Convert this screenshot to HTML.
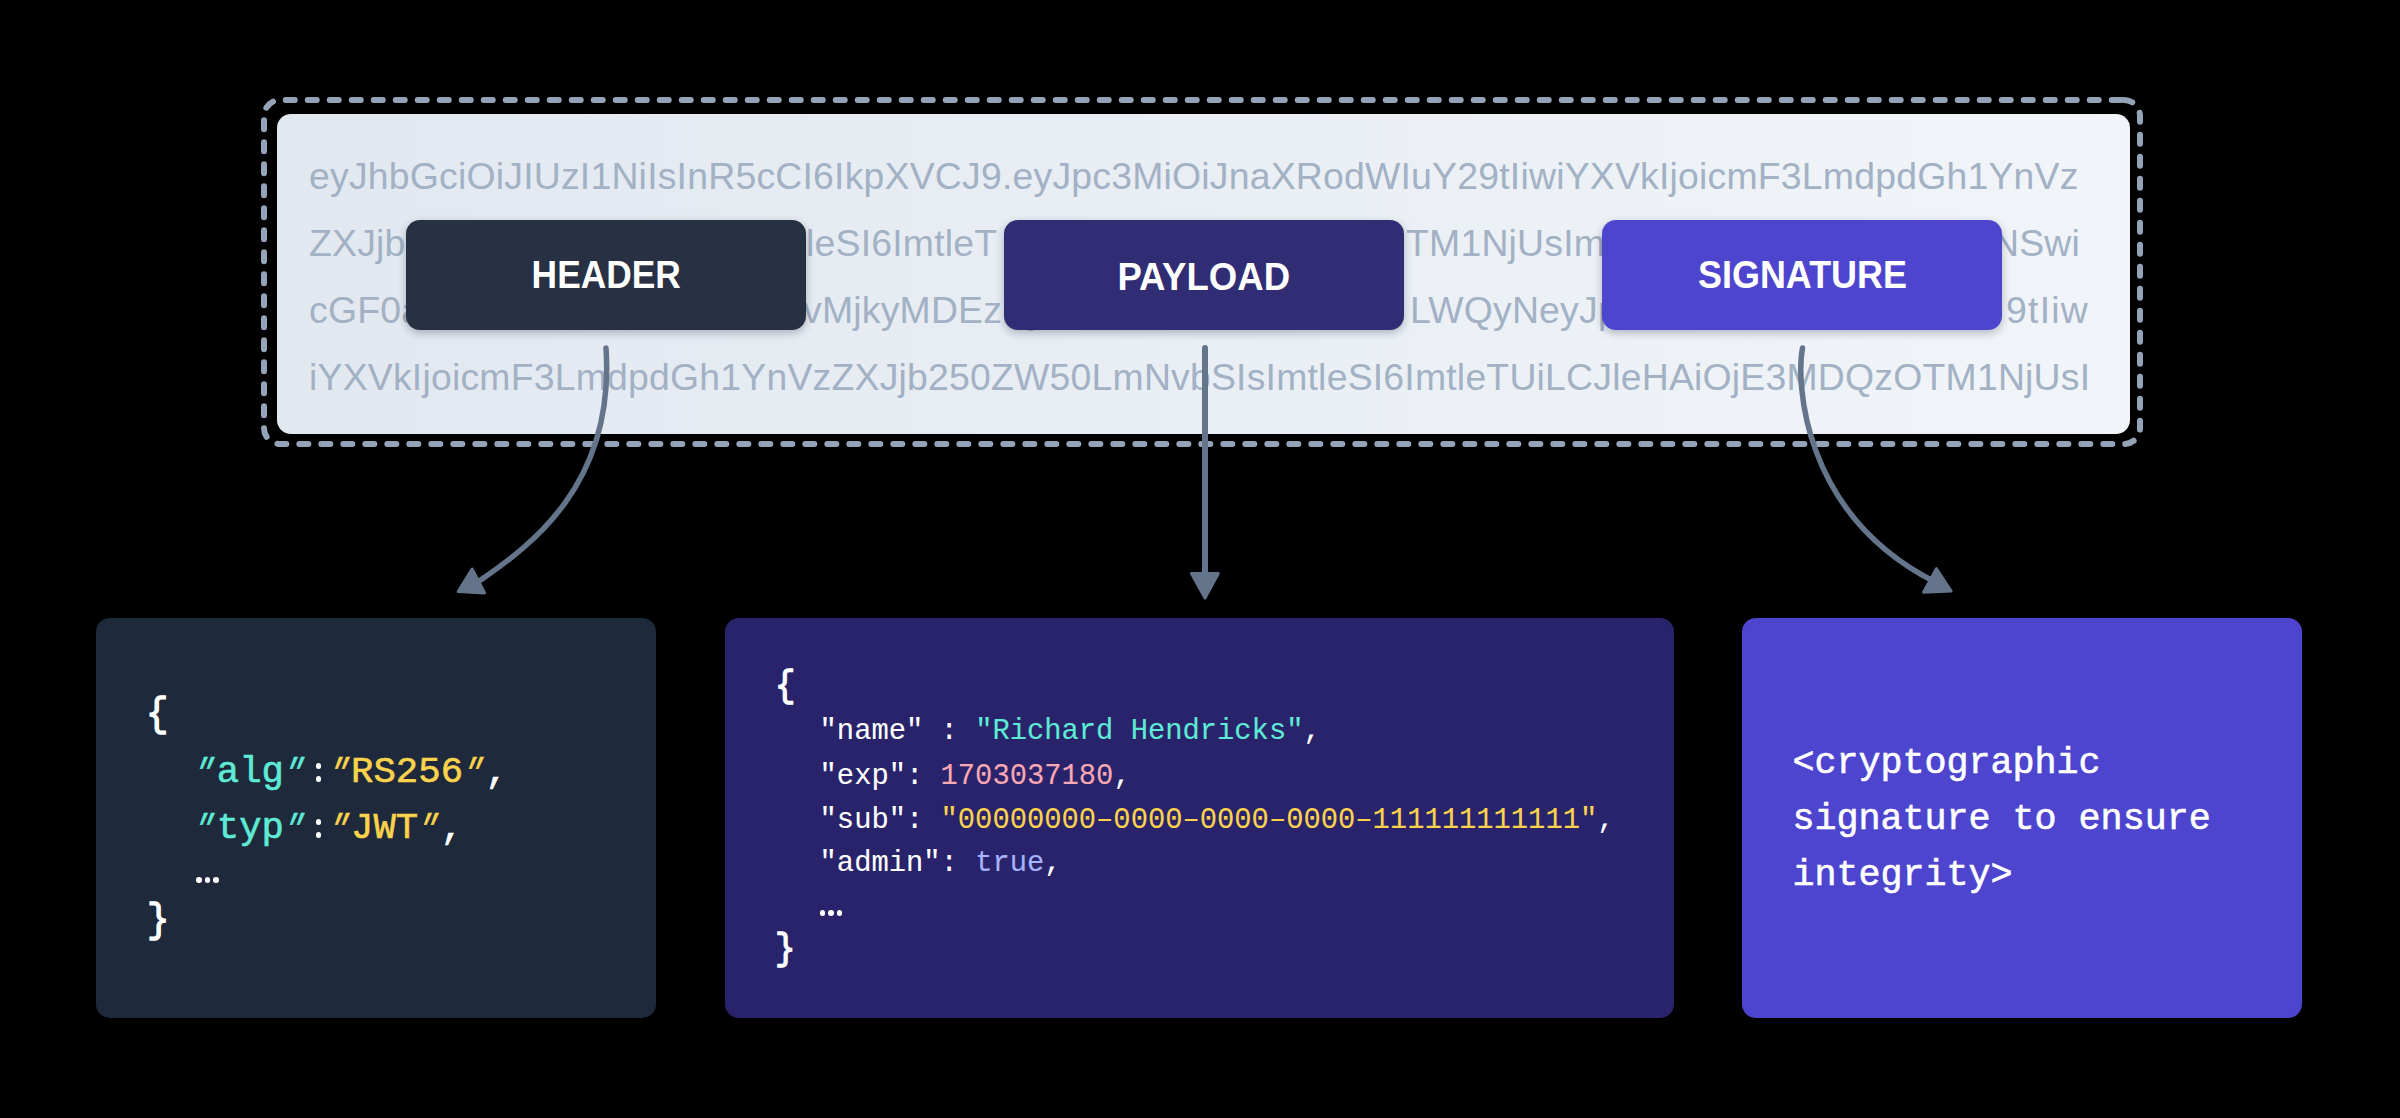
<!DOCTYPE html>
<html><head><meta charset="utf-8">
<style>
html,body{margin:0;padding:0;background:#000;width:2400px;height:1118px;overflow:hidden;position:relative}
*{box-sizing:border-box}
.abs{position:absolute}
#lightbox{left:277px;top:114px;width:1853px;height:320px;border-radius:14px;background:linear-gradient(90deg,#e2e8f0,#f1f5f9)}
.jwt{position:absolute;font-family:"Liberation Sans",sans-serif;font-size:37.4px;line-height:37.4px;color:#a3b1c4;white-space:pre;letter-spacing:0.2px}
.r{text-align:right}
.chip{position:absolute;top:220px;width:400px;height:110px;border-radius:14px;box-shadow:0 3px 8px rgba(15,23,42,0.28);}
.chiplabel{position:absolute;left:0;right:0;text-align:center;font-family:"Liberation Sans",sans-serif;font-weight:bold;font-size:38px;line-height:38px;color:#fff;white-space:pre}
.chiplabel span{display:inline-block;transform-origin:50% 50%}
.card{position:absolute;top:618px;height:400px;border-radius:14px}
.code{position:absolute;font-family:"Liberation Mono",monospace;white-space:pre;color:#fff;-webkit-text-stroke:0.6px currentColor}
.q{display:inline-block;transform:translate(-3px,1.5px) skewX(-22deg) scaleX(0.85)}
.brace{transform-origin:50% 50%;transform:scaleY(1.1);-webkit-text-stroke:1.2px #fff}
.c{position:relative;color:transparent;-webkit-text-stroke:0}
.c::before,.c::after{content:"";position:absolute;left:9.2px;width:5.6px;height:5.6px;border-radius:50%;background:#fff}
.c::before{top:12px}.c::after{top:25px}
.dot{position:absolute;width:5.5px;height:5.5px;border-radius:50%;background:#fff}
.h{font-size:37.3px;line-height:37.3px}
.p{font-size:28.8px;line-height:28.8px;-webkit-text-stroke:0.1px currentColor}
.s{font-size:36.7px;line-height:36.7px}
.t{color:#5eead4}.y{color:#fcd34d}.k{color:#f9a8b4}.b{color:#a5b4fc}
</style></head><body>
<svg class="abs" style="left:0;top:0" width="2400" height="1118">
  <path d="M2124 100 A16 16 0 0 1 2140 116 V428 A16 16 0 0 1 2124 444 H280 A16 16 0 0 1 264 428 V116 A16 16 0 0 1 280 100 H2124" fill="none" stroke="#94a3b8" stroke-width="6" stroke-dasharray="9 13" stroke-dashoffset="0.37" stroke-linecap="round"/>
</svg>
<div id="lightbox" class="abs"></div>
<div class="jwt" style="left:309px;top:158.2px">eyJhbGciOiJIUzI1NiIsInR5cCI6IkpXVCJ9.eyJpc3MiOiJnaXRodWIuY29tIiwiYXVkIjoicmF3LmdpdGh1YnVz</div>
<div class="jwt" style="left:309px;top:225.2px">ZXJjbCI6</div>
<div class="jwt" style="left:806px;top:225.2px">leSI6ImtleT</div>
<div class="jwt" style="left:1406px;top:225.2px">TM1NjUsImtleSI6</div>
<div class="jwt r" style="right:320px;top:225.2px">OjE3NSwi</div>
<div class="jwt" style="left:309px;top:292.2px">cGF0aCI6</div>
<div class="jwt" style="left:803px;top:292.2px">vMjkyMDEzNjU3LWFmZGVkMGM</div>
<div class="jwt" style="left:1410px;top:292.2px">LWQyNeyJpc3MiOiJ</div>
<div class="jwt r" style="right:311px;top:292.2px;letter-spacing:1.2px">9tIiw</div>
<div class="jwt" style="left:309px;top:359.2px">iYXVkIjoicmF3LmdpdGh1YnVzZXJjb250ZW50LmNvbSIsImtleSI6ImtleTUiLCJleHAiOjE3MDQzOTM1NjUsI</div>

<div class="chip" style="left:406px;background:#273143"><div class="chiplabel" style="top:36.3px;left:1px"><span style="transform:scaleX(0.930)">HEADER</span></div></div>
<div class="chip" style="left:1004px;background:#312d74"><div class="chiplabel" style="top:38.3px"><span style="transform:scaleX(0.962)">PAYLOAD</span></div></div>
<div class="chip" style="left:1602px;background:#4e45cf"><div class="chiplabel" style="top:36.3px;left:1px"><span style="transform:scaleX(0.945)">SIGNATURE</span></div></div>

<svg class="abs" style="left:0;top:0" width="2400" height="1118">
  <g fill="none" stroke="#64748b" stroke-width="5.5" stroke-linecap="round">
    <path d="M606 348 C615.4 489.4 524.4 549.3 478 582"/>
    <path d="M1205 348 L1205 576" stroke-width="6"/>
    <path d="M1802.5 348 C1796.3 380.6 1801 513.7 1935 582"/>
  </g>
  <g fill="#64748b" stroke="#64748b" stroke-width="3" stroke-linejoin="round">
    <polygon points="472.1,569 458.2,591.6 484.6,592.9"/>
    <polygon points="1191.5,573.5 1218.3,573.5 1205,598"/>
    <polygon points="1936.4,568.7 1923.6,592.2 1951.1,591.1"/>
  </g>
</svg>

<div class="card" style="left:96px;width:560px;background:#1e293b"></div>
<div class="card" style="left:725px;width:949px;background:#28236a"></div>
<div class="card" style="left:1742px;width:560px;background:#4e45cf"></div>

<div class="code h brace" style="left:146px;top:696.5px">{</div>
<div class="code h" style="left:194.4px;top:754.4px"><span class="t"><span class="q">"</span>alg<span class="q">"</span></span><span class="c">:</span><span class="y"><span class="q">"</span>RS256<span class="q">"</span></span>,</div>
<div class="code h" style="left:194.4px;top:810px"><span class="t"><span class="q">"</span>typ<span class="q">"</span></span><span class="c">:</span><span class="y"><span class="q">"</span>JWT<span class="q">"</span></span>,</div>
<div class="dot" style="left:196px;top:877.2px"></div><div class="dot" style="left:204.5px;top:877.2px"></div><div class="dot" style="left:213px;top:877.2px"></div>
<div class="code h brace" style="left:147px;top:903px">}</div>

<div class="code brace" style="left:775px;top:669px;font-size:34px;line-height:34px">{</div>
<div class="code p" style="left:819.6px;top:718px">"name" : <span class="t">"Richard Hendricks"</span>,</div>
<div class="code p" style="left:819.6px;top:763px">"exp": <span class="k">1703037180</span>,</div>
<div class="code p" style="left:819.6px;top:807px">"sub": <span class="y">"00000000–0000–0000–0000–111111111111"</span>,</div>
<div class="code p" style="left:819.6px;top:850px">"admin": <span class="b">true</span>,</div>
<div class="dot" style="left:819.8px;top:910.2px"></div><div class="dot" style="left:828.2px;top:910.2px"></div><div class="dot" style="left:836.7px;top:910.2px"></div>
<div class="code brace" style="left:775px;top:932px;font-size:34px;line-height:34px">}</div>

<div class="code s" style="left:1792.4px;top:745px">&lt;cryptographic</div>
<div class="code s" style="left:1792.4px;top:801px">signature to ensure</div>
<div class="code s" style="left:1792.4px;top:857.3px">integrity&gt;</div>

</body></html>
